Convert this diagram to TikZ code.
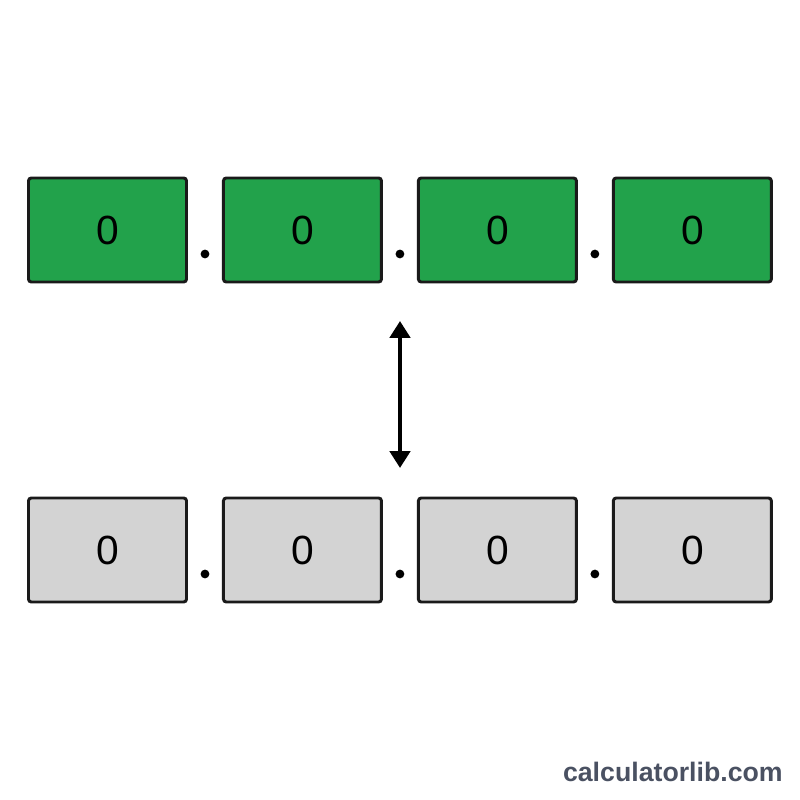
\documentclass[tikz,border=0pt]{standalone}
\usepackage{fontspec}
\setmainfont{Liberation Sans}
\usetikzlibrary{arrows.meta,positioning,calc}
\definecolor{octgreen}{HTML}{22A24B}
\definecolor{octgray}{HTML}{D3D3D3}
\definecolor{edgeblack}{HTML}{1A1A1A}
\definecolor{brandgray}{HTML}{4A5162}

\begin{document}
\begin{tikzpicture}[
  octbox/.style={draw=edgeblack, line width=2.1pt, rounded corners=2pt, minimum width=3.95cm, minimum height=2.6cm, font=\fontsize{29}{32}\selectfont, inner sep=0pt},
  sepdot/.style={circle, fill=black, minimum size=0.22cm, inner sep=0pt}
]
\useasboundingbox (0,0) rectangle (20,20);
% top row
\node[octbox, fill=octgreen] (g1) at (2.6875,14.25) {0};
\node[octbox, fill=octgreen, right=0.85cm of g1] (g2) {0};
\node[octbox, fill=octgreen, right=0.85cm of g2] (g3) {0};
\node[octbox, fill=octgreen, right=0.85cm of g3] (g4) {0};
% bottom row
\node[octbox, fill=octgray] (s1) at (2.6875,6.25) {0};
\node[octbox, fill=octgray, right=0.85cm of s1] (s2) {0};
\node[octbox, fill=octgray, right=0.85cm of s2] (s3) {0};
\node[octbox, fill=octgray, right=0.85cm of s3] (s4) {0};
% dots
\node[sepdot] (gd1) at ($(g1.east)!0.5!(g2.west)+(0,-0.6)$) {};
\node[sepdot] (gd2) at ($(g2.east)!0.5!(g3.west)+(0,-0.6)$) {};
\node[sepdot] (gd3) at ($(g3.east)!0.5!(g4.west)+(0,-0.6)$) {};
\node[sepdot] (sd1) at ($(s1.east)!0.5!(s2.west)+(0,-0.6)$) {};
\node[sepdot] (sd2) at ($(s2.east)!0.5!(s3.west)+(0,-0.6)$) {};
\node[sepdot] (sd3) at ($(s3.east)!0.5!(s4.west)+(0,-0.6)$) {};
% two-way arrow
\coordinate (up) at (10,11.975);
\coordinate (down) at (10,8.3);
\draw[line width=3pt, {Triangle[width=0.5cm,length=0.42cm]}-{Triangle[width=0.5cm,length=0.42cm]}] (up) -- (down);
\node[anchor=east, text=brandgray, font=\fontsize{19}{22}\selectfont\bfseries, inner sep=0pt] (brand) at (19.575,0.7) {calculatorlib.com};
\end{tikzpicture}
\end{document}
